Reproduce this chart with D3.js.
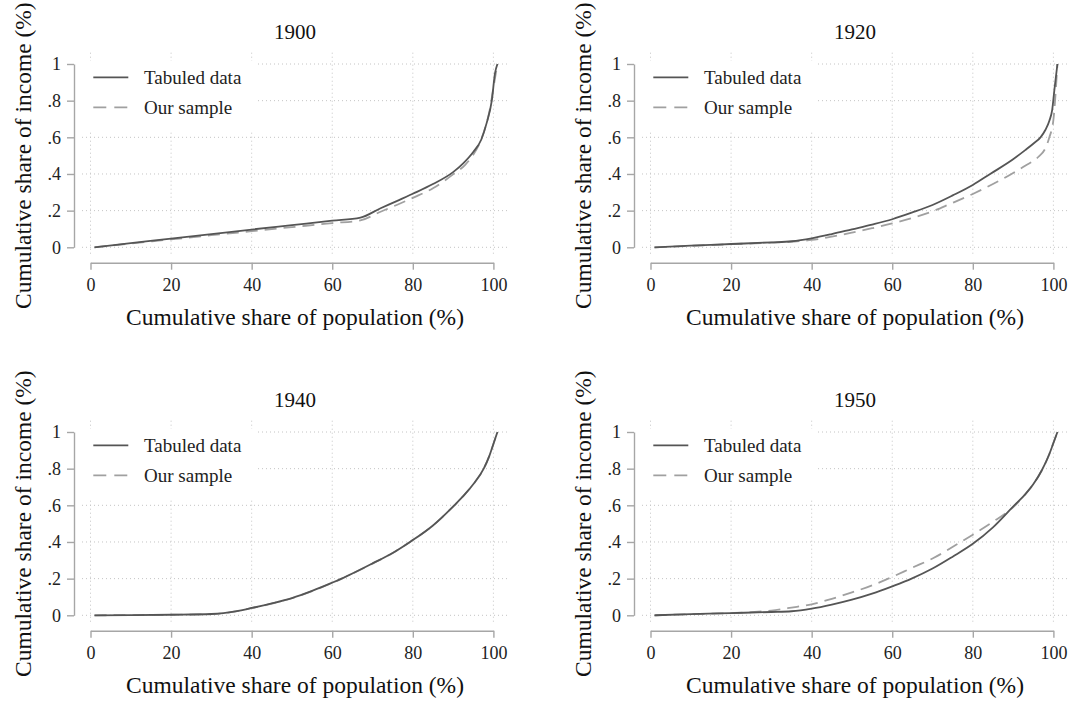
<!DOCTYPE html>
<html>
<head>
<meta charset="utf-8">
<script src="https://cdn.jsdelivr.net/npm/d3@7"></script>
<style>
  html, body { margin: 0; padding: 0; background: #fff; }
  svg { display: block; }
  text { font-family: "Liberation Serif", "Times New Roman", serif; }
</style>
</head>
<body>
<svg id="chart" width="1068" height="702"></svg>
<script>
// ---------- data ----------
const years = ["1900", "1920", "1940", "1950"];
const seriesNames = ["Tabuled data", "Our sample"];
const xTicks = [0, 20, 40, 60, 80, 100];
const yTicks = [0, 0.2, 0.4, 0.6, 0.8, 1];
const yTickLabels = ["0", ".2", ".4", ".6", ".8", "1"];
const xTitle = "Cumulative share of population (%)";
const yTitle = "Cumulative share of income (%)";

// [population share, cumulative income share]
const tab1900 = [[1,0],[10,0.023],[20,0.047],[30,0.072],[40,0.097],[50,0.121],[60,0.145],[67,0.162],[72,0.213],[76,0.252],[80,0.292],[85,0.345],[90,0.41],[92.5,0.458],[95,0.52],[97,0.588],[98.3,0.676],[99.6,0.80],[100.4,0.95],[101,1.0]];
const samp1900 = [[1,0],[10,0.021],[20,0.043],[30,0.066],[40,0.088],[50,0.11],[60,0.132],[67,0.147],[72,0.194],[76,0.231],[80,0.27],[85,0.322],[90,0.398],[93,0.45],[95,0.505],[97,0.59],[98,0.655],[99,0.74],[100,0.87],[101,1.0]];

const tab1920 = [[1,0],[10,0.009],[20,0.018],[30,0.027],[35,0.033],[40,0.049],[45,0.072],[50,0.098],[55,0.124],[60,0.153],[65,0.19],[70,0.231],[75,0.283],[80,0.34],[84.3,0.40],[90,0.48],[93,0.53],[95,0.565],[96.8,0.60],[98,0.64],[99,0.69],[99.7,0.75],[100.3,0.87],[101,1.0]];
const samp1920 = [[1,0],[10,0.008],[20,0.017],[30,0.025],[35,0.03],[40,0.04],[45,0.058],[50,0.08],[55,0.104],[60,0.13],[65,0.16],[70,0.196],[74.3,0.236],[80,0.291],[85,0.345],[89.6,0.40],[93,0.445],[96.3,0.494],[98,0.54],[99,0.60],[100,0.695],[101,1.0]];

const tab1940 = [[1,0],[10,0.001],[20,0.003],[30,0.007],[33,0.012],[36,0.022],[40,0.04],[45,0.065],[50,0.094],[55,0.133],[60,0.178],[62.3,0.2],[65,0.228],[70,0.283],[75,0.34],[79.3,0.40],[85,0.49],[90.3,0.60],[93,0.662],[95,0.715],[97.6,0.80],[99,0.87],[100,0.935],[101,1.0]];
const samp1940 = [[1,0],[10,0.001],[20,0.003],[30,0.006],[33,0.011],[36,0.021],[40,0.039],[45,0.064],[50,0.093],[55,0.132],[60,0.177],[62.3,0.199],[65,0.227],[70,0.282],[75,0.34],[79.3,0.40],[85,0.49],[90.3,0.60],[93,0.662],[95,0.715],[97.6,0.80],[99,0.87],[100,0.935],[101,1.0]];

const tab1950 = [[1,0],[10,0.006],[20,0.012],[30,0.018],[35,0.022],[40,0.036],[45,0.058],[50,0.085],[55,0.118],[60,0.158],[64.8,0.2],[70,0.255],[75,0.32],[80,0.39],[85,0.48],[90.3,0.60],[93,0.66],[95,0.715],[97.1,0.79],[99,0.88],[100,0.94],[101,1.0]];
const samp1950 = [[1,0],[10,0.006],[20,0.012],[25,0.017],[30,0.026],[35,0.042],[40,0.06],[45,0.09],[50,0.125],[55,0.163],[59,0.2],[65,0.26],[70,0.31],[77,0.40],[80,0.44],[85,0.51],[90.5,0.60],[93,0.66],[95,0.715],[97.1,0.79],[99,0.88],[100,0.94],[101,1.0]];

const tabulated = [tab1900, tab1920, tab1940, tab1950];
const sample = [samp1900, samp1920, samp1940, samp1950];

// ---------- layout ----------
const svg = d3.select("#chart");
const offsets = [[0, 0], [560, 0], [0, 368], [560, 368]];

const x = d3.scaleLinear().domain([0, 100]).range([90.5, 493.4]);
const y = d3.scaleLinear().domain([0, 1]).range([247.3, 64]);
const plotX = [82, 508];       // plot region (grid extent)
const plotY = [52.7, 256.7];
const yAxisX = 74;
const xAxisY = 262.7;

const styles = {
  tab: { color: "#555555", width: 1.8, dash: null },
  samp: { color: "#a0a0a0", width: 1.8, dash: "12,7" }
};

const line = d3.line()
  .x(d => x(d[0]))
  .y(d => y(d[1]))
  .curve(d3.curveMonotoneX);

years.forEach((yr, i) => {
  const g = svg.append("g").attr("transform", `translate(${offsets[i][0]},${offsets[i][1]})`);

  // grid
  const grid = g.append("g");
  grid.selectAll("line.h").data(yTicks).join("line")
    .attr("x1", plotX[0]).attr("x2", plotX[1])
    .attr("y1", d => y(d)).attr("y2", d => y(d))
    .attr("stroke", "#c4c4c4").attr("stroke-width", 1).attr("stroke-dasharray", "1,3");
  grid.selectAll("line.v").data(xTicks).join("line")
    .attr("y1", plotY[0]).attr("y2", plotY[1])
    .attr("x1", d => x(d)).attr("x2", d => x(d))
    .attr("stroke", "#c4c4c4").attr("stroke-width", 1).attr("stroke-dasharray", "1,3");

  // legend background
  g.append("rect").attr("x", plotX[0]).attr("y", 61).attr("width", 258 - plotX[0]).attr("height", 69)
    .attr("fill", "#fff");

  // axes
  const yAxis = d3.axisLeft(y).tickValues(yTicks)
    .tickFormat((d, k) => yTickLabels[k]).tickSize(7).tickSizeOuter(0).tickPadding(6);
  const ya = g.append("g").attr("transform", `translate(${yAxisX},0)`).call(yAxis);
  const xAxis = d3.axisBottom(x).tickValues(xTicks).tickSize(7).tickSizeOuter(0);
  const xa = g.append("g").attr("transform", `translate(0,${xAxisY})`).call(xAxis);
  [ya, xa].forEach(a => {
    a.attr("font-family", null);
    a.select(".domain").attr("stroke", "#a6a6a6").attr("stroke-width", 1.4);
    a.selectAll(".tick line").attr("stroke", "#a6a6a6").attr("stroke-width", 1.4);
    a.selectAll(".tick text").attr("fill", "#222").style("font-size", "18px")
      .style("font-family", '"Liberation Serif", "Times New Roman", serif');
  });
  ya.selectAll(".tick text").attr("dy", "0.33em");
  xa.selectAll(".tick text").attr("y", 291 - xAxisY).attr("dy", 0);

  // curves
  g.append("path").datum(sample[i]).attr("d", line)
    .attr("fill", "none").attr("stroke", styles.samp.color).attr("stroke-width", styles.samp.width)
    .attr("stroke-dasharray", styles.samp.dash);
  g.append("path").datum(tabulated[i]).attr("d", line)
    .attr("fill", "none").attr("stroke", styles.tab.color).attr("stroke-width", styles.tab.width);

  // legend
  const lg = g.append("g");
  [styles.tab, styles.samp].forEach((s, k) => {
    const ly = 77.3 + k * 30;
    lg.append("line").attr("x1", 93.3).attr("x2", 128.3).attr("y1", ly).attr("y2", ly)
      .attr("stroke", s.color).attr("stroke-width", s.width)
      .attr("stroke-dasharray", k === 1 ? "13,8" : null);
    lg.append("text").attr("x", 144).attr("y", ly + 7).attr("fill", "#222")
      .style("font-size", "19px").text(seriesNames[k]);
  });

  // titles
  g.append("text").attr("x", (plotX[0] + plotX[1]) / 2).attr("y", 39.3)
    .attr("text-anchor", "middle").attr("fill", "#111").style("font-size", "21px").text(yr);
  g.append("text").attr("x", (plotX[0] + plotX[1]) / 2).attr("y", 325)
    .attr("text-anchor", "middle").attr("fill", "#111").style("font-size", "23.5px").text(xTitle);
  g.append("text")
    .attr("transform", `translate(31,${(y(0) + y(1)) / 2}) rotate(-90)`)
    .attr("text-anchor", "middle").attr("fill", "#111").style("font-size", "23.5px").text(yTitle);
});
</script>
</body>
</html>
